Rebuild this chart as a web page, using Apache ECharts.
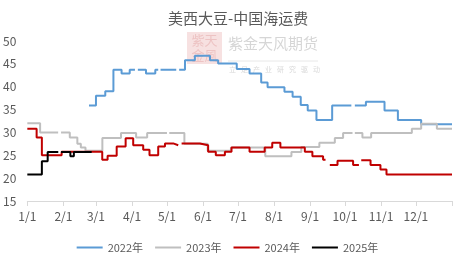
<!DOCTYPE html>
<html><head><meta charset="utf-8">
<script src="https://cdn.jsdelivr.net/npm/echarts@6/dist/echarts.min.js"></script>
<style>html,body{margin:0;padding:0;background:#fff}#c{width:455px;height:255px}</style>
</head><body><div id="c"></div>
<script>
// ---- data (x = day of year, value = freight; null = gap) ----
const chartTitle = '美西大豆-中国海运费';
const seriesNames = ['2022年', '2023年', '2024年', '2025年'];
const monthStartDays = [0, 31, 59, 90, 120, 151, 181, 212, 243, 273, 304, 334];
const tickLabels = ['1/1', '2/1', '3/1', '4/1', '5/1', '6/1', '7/1', '8/1', '9/1', '10/1', '11/1', '12/1'];
const yMin = 15, yMax = 50, yStep = 5;
const yearEnd = 365;

const freight2022 = [[53,35.9],[59,38],[67,39],[74,43.7],[81,42.9],[88,43.7],[92.5,43.7],[92.5,null],[95,43.7],[102,42.9],[110,43.7],[112.5,43.7],[112.5,null],[114.5,43.7],[128,43.7],[128,null],[130.5,43.7],[135.5,45.8],[144,46.8],[157,45.8],[164,45.1],[180,43.9],[191,42.9],[201,40.9],[206.5,39.9],[221,38.9],[228,37.8],[235,36],[241,34.8],[248.5,32.7],[262,35.9],[278.5,35.9],[278.5,null],[281.5,35.9],[291,36.7],[307,34.8],[318.5,32.7],[338.5,31.8],[365,31.8]];
const freight2023 = [[0,32],[11,30],[26.5,30],[26.5,null],[29,30],[36.5,28.9],[43,27.5],[46,26.7],[50,26],[64.5,28.8],[80.5,29.9],[93.5,28.9],[103,29.9],[120,29.9],[120,null],[122,29.9],[135,27.5],[155,26],[175,26.7],[204.5,24.8],[227,25.7],[235.5,26.8],[251,27.75],[264.3,28.8],[271.4,29.9],[279.5,29.9],[279.5,null],[281.5,29.9],[288,28.9],[295.5,29.9],[330.5,30.8],[338.5,31.9],[352,30.8],[365,30.8]];
const freight2024 = [[0,30.8],[8,28.9],[12.5,25],[29.5,25.8],[64.4,24],[69,24.9],[76.8,26.9],[84.5,28.7],[91,27.2],[99.6,26.2],[105,25],[112.5,26.9],[118.3,27.6],[125.4,27.2],[129.7,27.2],[129.7,null],[132.6,27.6],[148.3,27.2],[155.4,25.8],[162,25],[169.8,25.8],[175.5,26.7],[191,25.8],[204,26.7],[210.5,27.75],[217.5,26.7],[238.5,25.8],[245,24.8],[254.2,24],[256.3,24],[256.3,null],[260,22.9],[266.6,23.8],[280,22.9],[285,22.9],[285,null],[287,23.9],[295,22.9],[303.5,21.9],[308.7,20.8],[365,20.8]];
const freight2025 = [[0,20.8],[12.5,23.7],[17.5,25.7],[26.6,25.7],[26.6,null],[29,25.7],[37,24.8],[40,25.7],[55.3,25.7]];

const seriesData = [freight2022, freight2023, freight2024, freight2025];
const seriesColors = ['#5B9BD5', '#BFBFBF', '#C00000', '#000000'];

const FONT = '"Noto Sans CJK SC", "Noto Sans", sans-serif';
const TXT = '#595959';

const chart = echarts.init(document.getElementById('c'), null, {renderer: 'canvas'});

// watermark
const sloganChars = '立足产业研究驱动'.split('');
const watermark = [
  {type: 'rect', shape: {x: 187, y: 32, width: 35, height: 32}, style: {fill: '#F7E1E1'}, z: 0, silent: true},
  {type: 'text', x: 204.5, y: 48, style: {text: '紫天\n金風', fill: '#EDC3C3', font: '13px "Noto Sans CJK SC"', align: 'center', verticalAlign: 'middle', lineHeight: 15}, z: 0, silent: true},
  {type: 'text', x: 228, y: 36, style: {text: '紫金天风期货', fill: '#D6D6D6', font: '15px "Noto Sans CJK SC"'}, z: 0, silent: true},
  {type: 'line', shape: {x1: 228, y1: 61, x2: 318, y2: 61}, style: {stroke: '#E8E8E8', lineWidth: 1}, z: 0, silent: true}
].concat(sloganChars.map((ch, i) => ({
  type: 'text', x: 229 + i * 12, y: 66, style: {text: ch, fill: '#D9D9D9', font: '7px "Noto Sans CJK SC"'}, z: 0, silent: true
})));

chart.setOption({
  animation: false,
  backgroundColor: '#fff',
  title: {
    text: chartTitle, left: 163, top: 6,
    textStyle: {fontFamily: FONT, fontSize: 15, fontWeight: 'normal', color: TXT}
  },
  graphic: watermark,
  legend: {
    data: seriesNames, left: 'center', top: 237,
    icon: 'rect', itemWidth: 26, itemHeight: 2, itemGap: 12,
    textStyle: {fontFamily: FONT, fontSize: 11, color: TXT}
  },
  grid: {left: 27, right: 3, top: 41, bottom: 54},
  xAxis: {
    type: 'value', min: 0, max: yearEnd,
    axisLine: {show: true, lineStyle: {color: '#D9D9D9', width: 1}},
    axisTick: {show: true, length: 5, lineStyle: {color: '#D9D9D9'}, customValues: monthStartDays.concat([yearEnd])},
    axisLabel: {
      customValues: monthStartDays, margin: 9,
      fontFamily: FONT, fontSize: 12, color: TXT,
      formatter: v => tickLabels[monthStartDays.indexOf(v)] || ''
    },
    splitLine: {show: false}
  },
  yAxis: {
    type: 'value', min: yMin, max: yMax, interval: yStep,
    axisLine: {show: false}, axisTick: {show: false}, splitLine: {show: false},
    axisLabel: {fontFamily: FONT, fontSize: 12, color: TXT, margin: 11}
  },
  series: seriesNames.map((name, i) => ({
    name, type: 'line', step: 'end', data: seriesData[i],
    symbol: 'none', showSymbol: false, connectNulls: false,
    lineStyle: {color: seriesColors[i], width: 2},
    itemStyle: {color: seriesColors[i]},
    z: 2 + i
  }))
});
</script></body></html>
